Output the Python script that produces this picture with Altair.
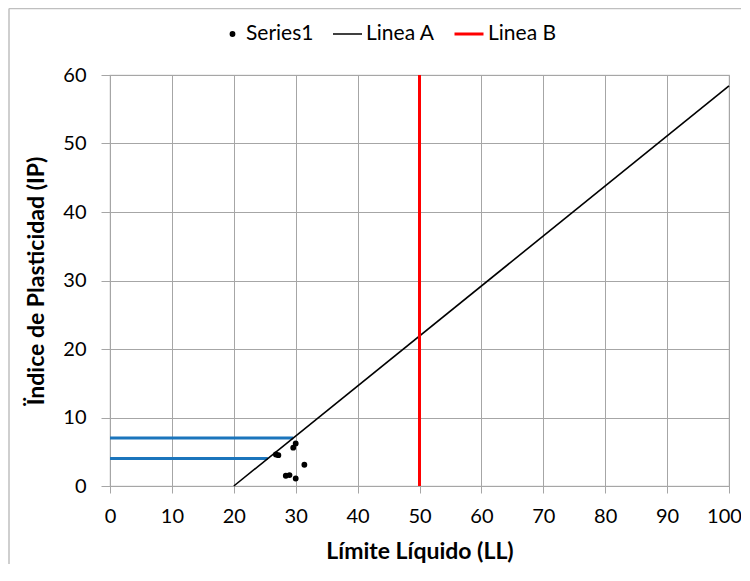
import altair as alt
import pandas as pd

# Data
pt_ll = [26.8, 27.2, 29.6, 30.0, 31.4, 28.4, 29.0, 30.0]
pt_ip = [4.6, 4.5, 5.6, 6.2, 3.1, 1.5, 1.6, 1.1]

lineA_ll = [20, 100]
lineA_ip = [0, 58.4]
lineB_ll = [50, 50]
lineB_ip = [0, 60]

blue_y = [7, 4]
blue_x_end = [29.6, 25.5]

series = ["Series1", "Linea A", "Linea B"]
colors = ["#000000", "#000000", "#FF0000"]
widths = [3, 1.6, 3]
shapes = ["circle", "stroke", "stroke"]
sizes = [8, 841, 841]

pts = pd.DataFrame({"LL": pt_ll, "IP": pt_ip, "serie": "Series1"})
lines = pd.DataFrame({
    "LL": lineA_ll + lineB_ll,
    "IP": lineA_ip + lineB_ip,
    "serie": ["Linea A"] * 2 + ["Linea B"] * 2,
})
blue = pd.DataFrame({"x0": [0, 0], "x1": blue_x_end, "y": blue_y})

FONT = "Lato"
W, H = 619, 411

xsc = alt.Scale(domain=[0, 100], nice=False)
ysc = alt.Scale(domain=[0, 60], nice=False)

color = alt.Color("serie:N", scale=alt.Scale(domain=series, range=colors),
                  legend=alt.Legend(title=None, orient="none", direction="horizontal",
                                    legendX=112, legendY=-53, labelFontSize=21,
                                    labelFont=FONT, labelColor="#000000",
                                    columnPadding=18, labelOffset=3, clipHeight=24))
shape = alt.Shape("serie:N", scale=alt.Scale(domain=series, range=shapes), legend=alt.Legend(title=None))
size = alt.Size("serie:N", scale=alt.Scale(type="ordinal", domain=series, range=sizes),
                legend=alt.Legend(title=None))
sw = alt.StrokeWidth("serie:N", scale=alt.Scale(type="ordinal", domain=series, range=widths),
                     legend=alt.Legend(title=None))

xax = alt.X("LL:Q", scale=xsc, title="Límite Líquido (LL)",
            axis=alt.Axis(values=list(range(0, 101, 10)), tickSize=7, labelPadding=13,
                          titlePadding=14,
                          labelOffset={"condition": {"test": "datum.value == 100", "value": -5},
                                       "value": 0}))
yax = alt.Y("IP:Q", scale=ysc, title="Ïndice de Plasticidad (IP)",
            axis=alt.Axis(values=list(range(0, 61, 10)), tickSize=9, labelPadding=15,
                          titlePadding=14))

blue_layer = alt.Chart(blue).mark_rule(color="#1B75BC", strokeWidth=3).encode(
    x=alt.X("x0:Q", scale=xsc), x2="x1:Q", y=alt.Y("y:Q", scale=ysc))

line_layer = alt.Chart(lines).mark_line().encode(
    x=xax, y=yax, color=color, strokeWidth=sw, detail="serie:N")

pt_layer = alt.Chart(pts).mark_point(filled=False, opacity=1).encode(
    x=alt.X("LL:Q", scale=xsc), y=alt.Y("IP:Q", scale=ysc),
    color=color, shape=shape, size=size, strokeWidth=sw)

frame_top = alt.Chart(pd.DataFrame({"a": [0]})).mark_rule(color="#BFBFBF", strokeWidth=1.5).encode(
    x=alt.value(-101), x2=alt.value(W + 30), y=alt.value(-66.5))
frame_left = alt.Chart(pd.DataFrame({"a": [0]})).mark_rule(color="#BFBFBF", strokeWidth=1.5).encode(
    x=alt.value(-101), y=alt.value(-66.5), y2=alt.value(H + 80))

chart = alt.layer(blue_layer, line_layer, pt_layer, frame_top, frame_left).properties(
    width=W, height=H,
    autosize=alt.AutoSizeParams(type="none"),
    padding={"left": 102, "top": 67, "right": 12, "bottom": 78},
).configure_view(stroke="#BFBFBF", strokeWidth=1.2).configure_axis(
    gridColor="#A6A6A6", gridWidth=1, domainColor="#A6A6A6", tickColor="#A6A6A6",
    labelFont=FONT, labelFontSize=20, labelColor="#000000",
    titleFont=FONT, titleFontSize=23, titleFontWeight="bold", titleColor="#000000",
).configure_axisX(labelFlush=False)

chart.save("out.html", embed_options={"renderer": "svg", "actions": False})
